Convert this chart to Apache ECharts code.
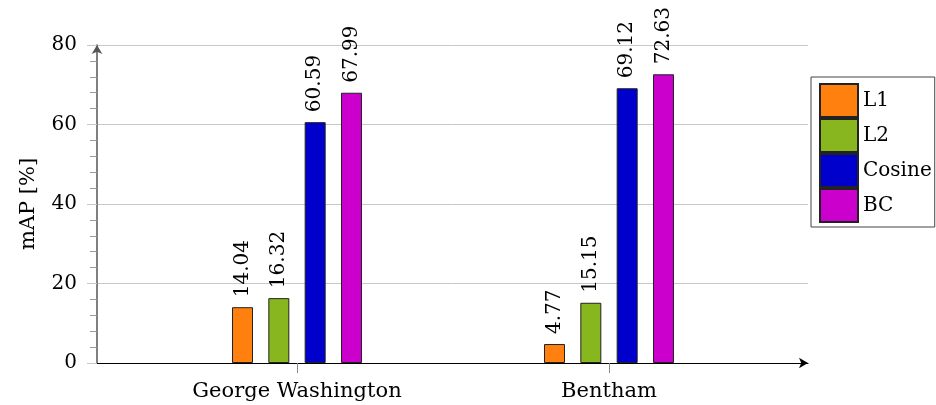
<!DOCTYPE html>
<html>
<head>
<meta charset="utf-8">
<script src="https://cdn.jsdelivr.net/npm/echarts@6/dist/echarts.min.js"></script>
<style>
  html, body { margin: 0; padding: 0; background: #fff; }
  #chart { width: 936px; height: 405px; }
</style>
</head>
<body>
<div id="chart"></div>
<script>
// Retrieval results per dataset and distance measure
const datasets = ['George Washington', 'Bentham'];
const measures = ['L1', 'L2', 'Cosine', 'BC'];
const l1Values = [14.04, 4.77];
const l2Values = [16.32, 15.15];
const cosineValues = [60.59, 69.12];
const bcValues = [67.99, 72.63];
const yTicks = [0, 20, 40, 60, 80];

const colors = ['#ff800e', '#88b61e', '#0000cc', '#cc00cc'];
const seriesValues = [l1Values, l2Values, cosineValues, bcValues];

const serifFont = 'DejaVu Serif';

const chart = echarts.init(document.getElementById('chart'), null, { renderer: 'canvas' });

const series = measures.map((name, i) => ({
  name,
  type: 'bar',
  xAxisIndex: 0,
  yAxisIndex: 0,
  data: seriesValues[i],
  barWidth: 21,
  barGap: '73%',
  itemStyle: { color: colors[i], borderColor: '#222', borderWidth: 1 },
  label: {
    show: true,
    position: 'top',
    rotate: 90,
    align: 'left',
    verticalAlign: 'middle',
    distance: 10,
    fontFamily: serifFont,
    fontSize: 20,
    color: '#000',
    formatter: (p) => p.value.toFixed(2)
  },
  emphasis: { disabled: true }
}));

chart.setOption({
  animation: false,
  backgroundColor: '#fff',
  grid: [
    // bars
    { left: 141, width: 624, top: 45, bottom: 42 },
    // frame: gridlines, axis lines with arrows
    { left: 97, right: 128, top: 45, bottom: 42 }
  ],
  legend: {
    data: measures,
    orient: 'vertical',
    left: 811,
    top: 77,
    itemWidth: 38,
    itemHeight: 33,
    itemGap: 0,
    padding: [6, 3, 4, 8],
    borderColor: '#444',
    borderWidth: 1,
    icon: 'rect',
    textStyle: { fontFamily: serifFont, fontSize: 20, color: '#000' }
  },
  xAxis: [
    {
      type: 'category',
      gridIndex: 0,
      data: datasets,
      boundaryGap: true,
      axisLine: { show: false },
      axisTick: { show: true, alignWithLabel: true, length: 10, lineStyle: { color: '#888' } },
      axisLabel: { fontFamily: serifFont, fontSize: 21, color: '#000', margin: 18 },
      splitLine: { show: false }
    },
    {
      type: 'value',
      gridIndex: 1,
      min: 0,
      max: 1,
      axisLine: {
        show: true,
        lineStyle: { color: '#000', width: 1.2 },
        symbol: ['none', 'arrow'],
        symbolSize: [8, 9]
      },
      axisTick: { show: false },
      axisLabel: { show: false },
      splitLine: { show: false }
    }
  ],
  yAxis: [
    {
      type: 'value',
      gridIndex: 0,
      min: yTicks[0],
      max: yTicks[yTicks.length - 1],
      show: false
    },
    {
      type: 'value',
      gridIndex: 1,
      min: yTicks[0],
      max: yTicks[yTicks.length - 1],
      interval: yTicks[1] - yTicks[0],
      name: 'mAP [%]',
      nameLocation: 'middle',
      nameGap: 58,
      nameTextStyle: { fontFamily: serifFont, fontSize: 21, color: '#000' },
      axisLine: {
        show: true,
        lineStyle: { color: '#555', width: 1.5 },
        symbol: ['none', 'arrow'],
        symbolSize: [8, 9]
      },
      axisTick: { show: true, length: 10, lineStyle: { color: '#c8c8c8' } },
      minorTick: { show: true, splitNumber: 5, length: 7, lineStyle: { color: '#999' } },
      axisLabel: { fontFamily: serifFont, fontSize: 20, color: '#000', margin: 20 },
      splitLine: { show: true, lineStyle: { color: '#c8c8c8', width: 1 } }
    }
  ],
  series
});
</script>
</body>
</html>
